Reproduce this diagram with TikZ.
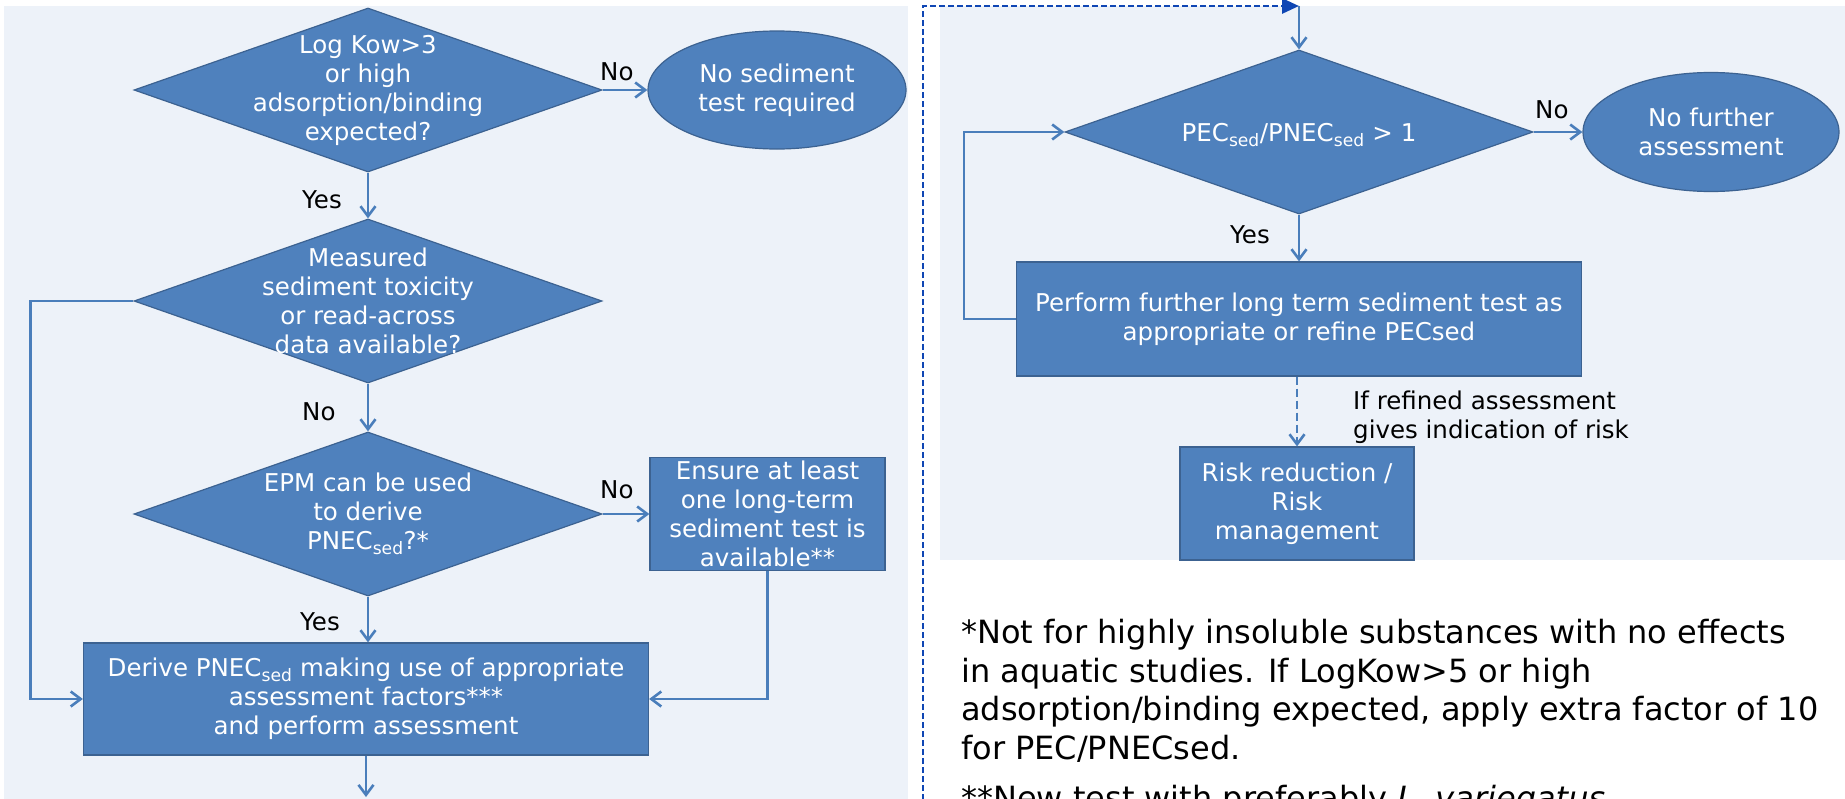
\documentclass[tikz,border=0pt]{standalone}
\usepackage{fontspec}
\setmainfont{DejaVu Sans}
\usetikzlibrary{shapes.geometric,arrows.meta}

\definecolor{shapefill}{RGB}{79,129,189}
\definecolor{shapeline}{RGB}{60,98,145}
\definecolor{linkblue}{RGB}{74,126,187}
\definecolor{panelbg}{RGB}{237,242,249}
\definecolor{backblue}{RGB}{15,70,180}

\newcommand{\boxfont}{\fontsize{24.5}{29}\selectfont}
\newcommand{\notefont}{\fontsize{32}{38.5}\selectfont}

\tikzset{
  dec/.style={diamond,fill=shapefill,draw=shapeline,line width=1.2pt,
    minimum width=468pt,minimum height=164pt,inner sep=0pt},
  endell/.style={ellipse,fill=shapefill,draw=shapeline,line width=1.2pt,
    minimum width=258pt,minimum height=118pt,inner sep=0pt},
  procbox/.style={rectangle,fill=shapefill,draw=shapeline,line width=1.2pt,inner sep=0pt},
  txt/.style={text=white,align=center,font=\boxfont,inner sep=0pt},
  lbl/.style={text=black,font=\boxfont,inner sep=0pt,anchor=base west},
  conn/.style={draw=linkblue,line width=2.6pt,->},
  backlink/.style={draw=backblue,line width=2.8pt,dash pattern=on 6pt off 3pt,
    -{Triangle[length=17pt,width=15pt]}},
  riskdash/.style={dash pattern=on 8pt off 4pt}
}

\begin{document}
\begin{tikzpicture}[x=1pt,y=-1pt,>={Straight Barb[length=10pt,width=15pt]}]
\useasboundingbox (0,0) rectangle (1845,798);
\clip (0,0) rectangle (1845,798);

% background panels
\fill[panelbg] (4,6) rectangle (908,800);
\fill[panelbg] (940,6) rectangle (1845,560);

% left chart
\node[dec] (kow) at (368,90) {};
\node[txt] (kowt) at (kow) {Log Kow>3\\or high\\adsorption/binding\\expected?};
\node[endell] (nosed) at (777,90) {};
\node[txt] (nosedt) at (nosed) {No sediment\\test required};
\node[dec] (meas) at (368,301) {};
\node[txt] (meast) at (meas) {Measured\\sediment toxicity\\or read-across\\data available?};
\node[dec] (epm) at (368,514) {};
\node[txt] (epmt) at (epm) {EPM can be used\\to derive\\PNEC\textsubscript{sed}?*};
\node[procbox,minimum width=235pt,minimum height=113pt] (ensure) at (767.5,514) {};
\node[txt] (ensuret) at (ensure) {Ensure at least\\one long-term\\sediment test is\\available**};
\node[procbox,minimum width=565pt,minimum height=112pt] (derive) at (366,699) {};
\node[txt] (derivet) at (derive) {Derive PNEC\textsubscript{sed} making use of appropriate\\assessment factors***\\and perform assessment};

\node[lbl] (yes1) at (302,208) {Yes};
\node[lbl] (no1) at (600,80) {No};
\node[lbl] (no2) at (302,420) {No};
\node[lbl] (no3) at (600,498) {No};
\node[lbl] (yes2) at (300,630) {Yes};

\coordinate (out) at (366,797);
\draw[conn] (kow) -- (meas);
\draw[conn] (kow) -- (nosed);
\draw[conn] (meas) -- (epm);
\draw[conn] (epm) -- (ensure);
\draw[conn] (epm.south) -- (epm.south |- derive.north);
\draw[conn] (meas.west) -- ++(-103,0) |- (derive.west);
\draw[conn] (ensure.south) |- (derive.east);
\draw[conn] (derive) -- (out);

% link to the right chart
\coordinate (back) at (923,800);
\coordinate (inflow) at (1299,6);
\draw[backlink] (back) |- (inflow);

% right chart
\node[dec] (ratio) at (1299,132) {};
\node[txt,yshift=-3pt] (ratiot) at (ratio) {PEC\textsubscript{sed}/PNEC\textsubscript{sed} > 1};
\node[endell,minimum width=256pt,minimum height=119pt] (nofur) at (1711,132) {};
\node[txt] (nofurt) at (nofur) {No further\\assessment};
\node[procbox,minimum width=565pt,minimum height=114pt] (perform) at (1299,319) {};
\node[txt] (performt) at (perform) {Perform further long term sediment test as\\appropriate or refine PECsed};
\node[procbox,minimum width=234pt,minimum height=113pt] (risk) at (1297,503.5) {};
\node[txt] (riskt) at (risk) {Risk reduction /\\Risk\\management};

\node[lbl] (yes3) at (1230,243) {Yes};
\node[lbl] (no4) at (1535,118) {No};
\node[lbl,anchor=north west,align=left] (refnote) at (1353,391) {If refined assessment\\gives indication of risk};

\draw[conn] (inflow) -- (ratio);
\draw[conn] (ratio) -- (nofur);
\draw[conn] (ratio) -- (perform);
\draw[conn] (perform.west) -- ++(-52,0) |- (ratio.west);
\draw[conn,riskdash] (risk.north |- perform.south) -- (risk.north);

% footnotes
\node[anchor=north west,align=left,font=\notefont,inner sep=0pt] (foot) at (961,619)
  {*Not for highly insoluble substances with no effects\\
   in aquatic studies. If LogKow>5 or high\\
   adsorption/binding expected, apply extra factor of 10\\
   for PEC/PNECsed.\\[11.5pt]
   **New test with preferably \textit{L. variegatus}};
\end{tikzpicture}
\end{document}
